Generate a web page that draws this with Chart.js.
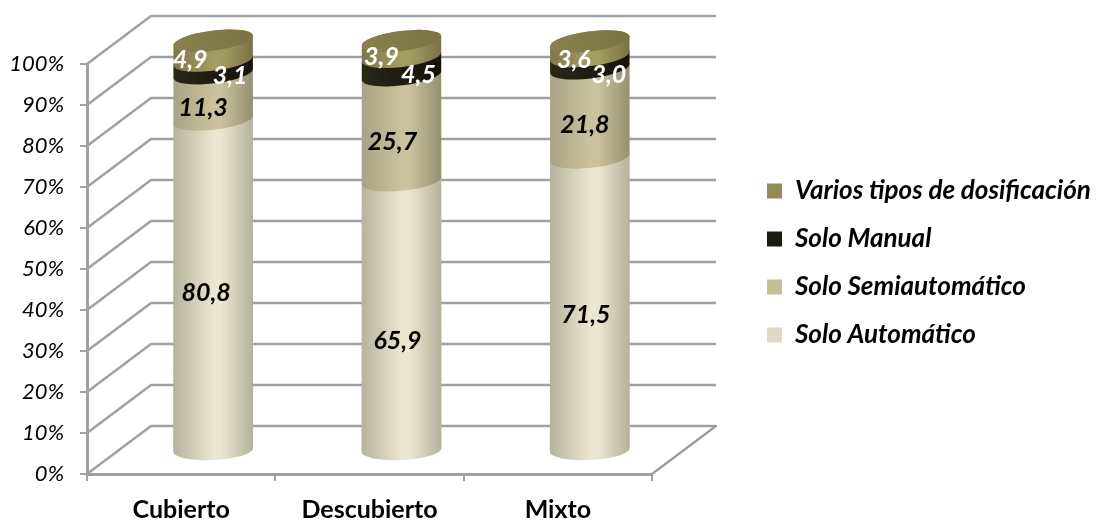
<!DOCTYPE html>
<html>
<head>
<meta charset="utf-8">
<script src="https://cdn.jsdelivr.net/npm/chart.js@4"></script>
<style>
  html, body { margin: 0; padding: 0; background: #fff; }
  canvas { display: block; }
</style>
</head>
<body>
<canvas id="grafico" width="1102" height="522"></canvas>
<script>
const categorias = ["Cubierto", "Descubierto", "Mixto"];
const soloAutomatico = [80.8, 65.9, 71.5];
const soloSemiautomatico = [11.3, 25.7, 21.8];
const soloManual = [3.1, 4.5, 3.0];
const variosTipos = [4.9, 3.9, 3.6];

// profundidad del efecto 3D
const FONDO_X = 64;
const FONDO_Y = -48;
const GRIS = "#a0a0a0";

// los rotulos estan movidos a mano en el original: [dx, dy] por serie y categoria
const ajusteRotulos = [
    [[-7, 8], [-4, 26], [-4, 11]],
    [[-10, 11], [-9, 14], [-5, 12]],
    [[17, 9], [17, 9], [19, 13]],
    [[-23, 9], [-20, 8], [-16, 11]]
];

// tonos del cilindro: borde izq, centro, borde der
const tonos = [
    ["#b5b39c", "#ebe6cf", "#b4b29b"],
    ["#a8a384", "#c9c29c", "#959073"],
    ["#2a2818", "#1d1b10", "#15130a"],
    ["#7f7749", "#a59c62", "#7a7247"]
];

function dibujarParedes(chart) {
    const { ctx, scales: { y }, chartArea: { left, right } } = chart;
    ctx.save();
    ctx.strokeStyle = GRIS;
    ctx.lineWidth = 2.5;
    ctx.lineJoin = "round";
    y.ticks.forEach(t => {
        const py = y.getPixelForValue(t.value);
        ctx.beginPath();
        ctx.moveTo(left, py);
        ctx.lineTo(left + FONDO_X, py + FONDO_Y);
        ctx.lineTo(right + FONDO_X, py + FONDO_Y);
        if (t.value === 0) ctx.lineTo(right, py);
        ctx.stroke();
    });
    ctx.restore();
}

function giroElipse(py, y) {
    // la inclinacion crece hacia arriba
    const f = (y.bottom - py) / (y.bottom - y.top);
    return (-2.5 - 4.5 * f) * Math.PI / 180;
}

function dibujarTramo(ctx, cx, y0, y1, ancho, colores, y) {
    const rx = ancho / 2;
    const g = ctx.createLinearGradient(cx - rx, 0, cx + rx, 0);
    g.addColorStop(0, colores[0]);
    g.addColorStop(0.5, colores[1]);
    g.addColorStop(0.6, colores[1]);
    g.addColorStop(1, colores[2]);
    ctx.fillStyle = g;
    ctx.beginPath();
    ctx.ellipse(cx, y0, rx, 10, giroElipse(y0, y), 0, Math.PI);
    ctx.ellipse(cx, y1, rx, 10, giroElipse(y1, y), Math.PI, 2 * Math.PI);
    ctx.closePath();
    ctx.fill();
}

function dibujarCilindros(chart) {
    const { ctx, scales: { y } } = chart;
    const dx = FONDO_X / 2, dy = -23;
    chart.data.datasets.forEach((ds, i) => {
        chart.getDatasetMeta(i).data.forEach(bar => {
            dibujarTramo(ctx, bar.x + dx, bar.base + dy, bar.y + dy, bar.width, tonos[i], y);
        });
    });
    // tapa superior
    const ultima = chart.getDatasetMeta(chart.data.datasets.length - 1).data;
    ultima.forEach(bar => {
        const cx = bar.x + dx, cy = bar.y + dy;
        const g = ctx.createLinearGradient(cx - 40, cy + 8, cx + 40, cy - 8);
        g.addColorStop(0, "#8a814e");
        g.addColorStop(1, "#7b7344");
        ctx.fillStyle = g;
        ctx.beginPath();
        ctx.ellipse(cx, cy, bar.width / 2, 10, giroElipse(cy, y), 0, 2 * Math.PI);
        ctx.fill();
    });
}

function dibujarRotulos(chart) {
    const { ctx } = chart;
    const dx = FONDO_X / 2, dy = -23;
    ctx.save();
    ctx.font = "italic bold 25px Lato";
    ctx.textAlign = "center";
    ctx.textBaseline = "middle";
    chart.data.datasets.forEach((ds, i) => {
        chart.getDatasetMeta(i).data.forEach((bar, j) => {
            const [ax, ay] = ajusteRotulos[i][j];
            ctx.fillStyle = i >= 2 ? "#fff" : "#000";
            const texto = ds.data[j].toFixed(1).replace(".", ",");
            ctx.fillText(texto, bar.x + dx + ax, (bar.y + bar.base) / 2 + dy + ay);
        });
    });
    ctx.restore();
}

const cilindros3d = {
    id: "cilindros3d",
    beforeLayout(chart) {
        // la leyenda ocupa todo el lado derecho, asi el area queda donde debe
        chart.legend.fit = function () {
            Object.getPrototypeOf(this).fit.call(this);
            this.width = 450;
        };
    },
    afterLayout(chart) {
        const legend = chart.legend;
        legend.left = 767 - chart.options.plugins.legend.labels.padding;
        legend.top -= 30;
        legend.bottom -= 30;
    },
    beforeDatasetsDraw(chart) {
        dibujarParedes(chart);
        dibujarCilindros(chart);
        dibujarRotulos(chart);
        return false;
    }
};

function generarSerie(label, data, color) {
    return { label, data, backgroundColor: color, borderWidth: 0 };
}

new Chart(document.getElementById("grafico"), {
    type: "bar",
    data: {
        labels: categorias,
        datasets: [
            generarSerie("Solo Automático", soloAutomatico, "#ddd9c3"),
            generarSerie("Solo Semiautomático", soloSemiautomatico, "#c4bd97"),
            generarSerie("Solo Manual", soloManual, "#1d1b10"),
            generarSerie("Varios tipos de dosificación", variosTipos, "#948a54")
        ]
    },
    options: {
        responsive: false,
        animation: false,
        barPercentage: 0.425,
        categoryPercentage: 1,
        layout: { padding: { top: 64 } },
        plugins: {
            tooltip: { enabled: false },
            legend: {
                position: "right",
                reverse: true,
                labels: {
                    boxWidth: 15,
                    boxHeight: 15,
                    padding: 22,
                    color: "#000",
                    font: { family: "Lato", size: 26, style: "italic", weight: "bold" }
                }
            }
        },
        scales: {
            x: {
                stacked: true,
                afterFit(scale) { scale.height = 48; },
                border: { color: GRIS, width: 3 },
                grid: { drawOnChartArea: false, color: GRIS, lineWidth: 2, tickLength: 7 },
                ticks: { color: "#000", padding: 14, font: { family: "Lato", size: 25, weight: "bold" } }
            },
            y: {
                stacked: true,
                min: 0,
                max: 100,
                afterFit(scale) { scale.width = 87; },
                border: { color: GRIS, width: 3 },
                grid: { drawOnChartArea: false, color: GRIS, lineWidth: 2, tickLength: 7 },
                ticks: {
                    stepSize: 10,
                    color: "#000",
                    padding: 16,
                    font: { family: "Lato", size: 22, style: "italic" },
                    callback: v => v + "%"
                }
            }
        }
    },
    plugins: [cilindros3d]
});
</script>
</body>
</html>
